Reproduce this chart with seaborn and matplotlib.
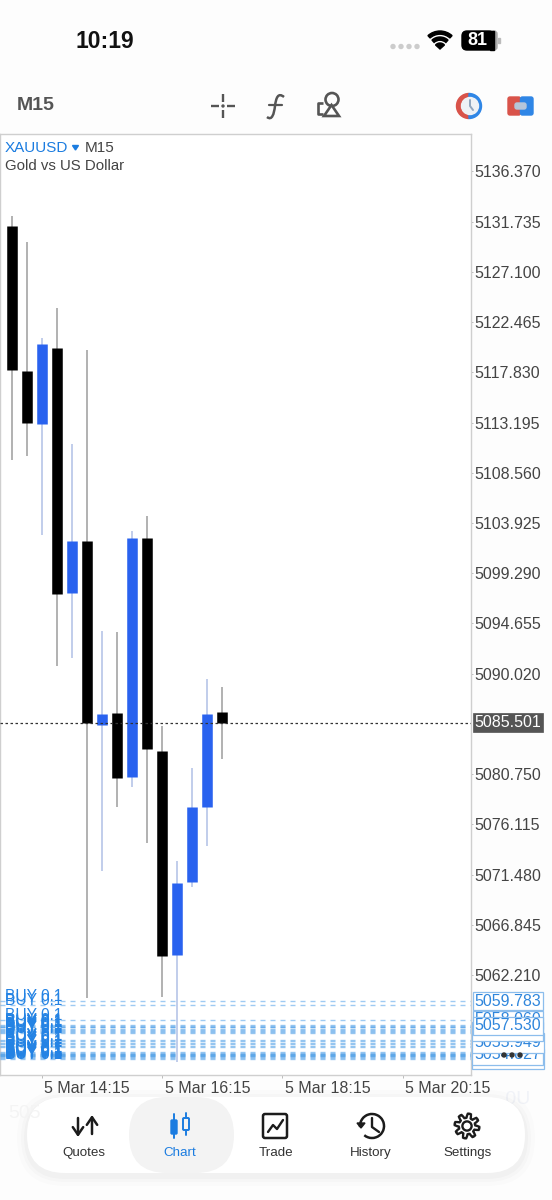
#!/usr/bin/env python3
import numpy as np
import pandas as pd
import matplotlib
matplotlib.use('Agg')
import matplotlib.pyplot as plt
import matplotlib.patches as mp
from matplotlib.path import Path
from matplotlib.transforms import ScaledTranslation
import seaborn as sns

# velas M15 (la primera esta cortada por el borde)
bars = list(range(16))
opens = [5121.56, 5131.34, 5117.96, 5113.07, 5120.08, 5097.47, 5102.27, 5085.29,
         5086.39, 5080.49, 5102.54, 5082.89, 5064.06, 5070.80, 5077.72, 5086.49]
closes = [5131.43, 5118.05, 5113.16, 5120.45, 5097.38, 5102.27, 5085.47, 5086.30,
          5080.39, 5102.54, 5083.07, 5063.97, 5070.70, 5077.72, 5086.30, 5085.47]
highs = [5131.43, 5132.26, 5129.86, 5121.00, 5123.77, 5111.22, 5119.90, 5093.96,
         5093.87, 5103.19, 5104.57, 5085.19, 5072.73, 5081.32, 5089.53, 5088.79]
lows = [5121.56, 5109.74, 5110.11, 5102.82, 5090.73, 5091.47, 5060.09, 5071.81,
        5077.72, 5079.56, 5074.39, 5060.18, 5054.18, 5070.33, 5074.12, 5082.15]

y_ticks = [5136.370, 5131.735, 5127.100, 5122.465, 5117.830, 5113.195, 5108.560, 5103.925,
           5099.290, 5094.655, 5090.020, 5080.750, 5076.115, 5071.480, 5066.845, 5062.210]
x_ticks = [3, 11, 19, 27]
x_labels = ['5 Mar 14:15', '5 Mar 16:15', '5 Mar 18:15', '5 Mar 20:15']
current_price = 5085.501

order_prices = [5059.783, 5059.44, 5058.06,
                5057.62, 5057.53, 5057.45, 5057.37, 5057.25, 5057.14, 5057.05, 5056.973, 5056.86,
                5056.21, 5056.10, 5055.949, 5055.80, 5055.68, 5055.57,
                5055.10, 5055.01, 5054.95, 5054.90, 5054.85, 5054.827, 5054.75, 5054.70, 5054.64, 5054.55, 5054.46]
# etiquetas de la derecha, de atras hacia delante
tag_prices = [5054.46, 5054.827, 5055.949, 5056.973, 5058.06, 5059.783, 5057.53]
tag_pads = [0.14, 0.14, 0.16, 0.14, 0.1, 0.1, 0.1]

tabs = ['Quotes', 'Chart', 'Trade', 'History', 'Settings']

BLUE = '#2962ef'
ORDER = '#3f97e6'
TEXT = '#444444'

sns.set_theme(style='white')
plt.rcParams['font.family'] = ['Liberation Sans', 'DejaVu Sans']
plt.rcParams['lines.scale_dashes'] = False

fig = plt.figure(figsize=(5.52, 12), dpi=100, facecolor='#fdfdfd')
ax = fig.add_axes([0, 125 / 1200, 471 / 552, 941 / 1200], facecolor='white')

# tablas largas para lineplot: mecha y cuerpo de cada vela
sides = ['up' if c >= o else 'down' for o, c in zip(opens, closes)]
wicks = pd.DataFrame({'bar': bars * 2, 'price': highs + lows, 'side': sides * 2, 'candle': bars * 2})
bodies = pd.DataFrame({'bar': bars * 2, 'price': opens + closes, 'side': sides * 2, 'candle': bars * 2})

sns.lineplot(data=wicks, x='bar', y='price', hue='side', units='candle', estimator=None,
             palette={'up': '#b0c0e6', 'down': '#9c9c9c'}, linewidth=1.1,
             solid_capstyle='butt', legend=False, ax=ax)
sns.lineplot(data=bodies, x='bar', y='price', hue='side', units='candle', estimator=None,
             palette={'up': BLUE, 'down': '#000000'}, linewidth=7.6,
             solid_capstyle='butt', legend=False, ax=ax)

ax.set_xlim(0.2326, 31.53)
ax.set_ylim(5052.98, 5139.83)
ax.set_xlabel('')
ax.set_ylabel('')
for s in ax.spines.values():
    s.set_visible(True)
    s.set_color('#cfcfcf')
    s.set_linewidth(1)

ax.yaxis.tick_right()
ax.set_yticks(y_ticks)
ax.set_yticklabels([f'{v:.3f}' for v in y_ticks])
ax.set_xticks(x_ticks)
ax.set_xticklabels(x_labels, ha='left')
ax.tick_params(axis='y', length=1.5, width=0.7, color='#bbbbbb', labelcolor=TEXT, labelsize=11.5, pad=1,
               left=False, right=True)
ax.tick_params(axis='x', length=2.5, width=0.7, color='#bbbbbb', labelcolor=TEXT, labelsize=11.5, pad=1.5,
               bottom=True)
shift = ScaledTranslation(0.025, 0, fig.dpi_scale_trans)
for lab in ax.get_xticklabels():
    lab.set_transform(lab.get_transform() + shift)

# lineas de ordenes BUY
ytr = ax.get_yaxis_transform()
for p in order_prices:
    ax.axhline(p, color=ORDER, lw=1.0, alpha=0.5, dashes=(3.6, 3.6), zorder=3)
    ax.text(5 / 471, p, 'BUY 0.1', transform=ytr, color='#2483e4', fontsize=11.2, va='baseline', zorder=4)

for z, (p, pad) in enumerate(zip(tag_prices, tag_pads)):
    ax.text(474.5 / 471, p, f'{p:.3f}', transform=ytr, color='#2f86dc', fontsize=11.5, va='center',
            clip_on=False, zorder=6 + z,
            bbox=dict(boxstyle=f'square,pad={pad}', fc='white', ec='#8cbdec', lw=0.9))

# precio actual
ax.axhline(current_price, color='#333333', lw=0.9, dashes=(1.8, 1.8), zorder=5)
ax.text(474.5 / 471, current_price, f'{current_price:.3f}', transform=ytr, color='white', fontsize=11.5,
        va='center', clip_on=False, zorder=6,
        bbox=dict(boxstyle='square,pad=0.12', fc='#555555', ec='#555555', lw=0.5))

# capa de la interfaz, en pixeles de la captura
ui = fig.add_axes([0, 0, 1, 1], zorder=5)
ui.set_xlim(0, 552)
ui.set_ylim(1200, 0)
ui.axis('off')
ui.patch.set_alpha(0)

DARK = '#1c1c1c'
GREY = '#555555'

# barra de estado
ui.text(105, 41, '10:19', fontsize=16.5, fontweight='bold', color='#111111', ha='center', va='center')
for x in [394, 402, 410, 418]:
    ui.add_patch(mp.Circle((x - 1, 46.5), 2, color='#cccccc'))
for r, w in [(18, 3.2), (12, 3.2)]:
    ui.add_patch(mp.Wedge((440, 49), r, 228, 312, width=w, color='#000000'))
ui.add_patch(mp.Wedge((440, 49), 6, 222, 318, color='#000000'))
ui.add_patch(mp.FancyBboxPatch((491, 31), 6, 19, boxstyle='round,pad=0,rounding_size=3', color='#aaaaaa'))
ui.add_patch(mp.FancyBboxPatch((462, 31), 32, 19, boxstyle='round,pad=0,rounding_size=5', color='#000000'))
ui.add_patch(mp.Rectangle((490, 31), 4, 19, color='#000000'))
ui.add_patch(mp.Rectangle((498, 38), 1.5, 5, color='#bbbbbb'))
ui.text(477, 40.5, '81', fontsize=13, fontweight='bold', color='white', ha='center', va='center')

# barra de herramientas
ui.text(17, 105.5, 'M15', fontsize=14, fontweight='bold', color=GREY, ha='left', va='center')
cx, cy = 223, 106
for x0, y0, x1, y1 in [(cx - 12, cy, cx - 4, cy), (cx + 4, cy, cx + 12, cy),
                       (cx, cy - 12, cx, cy - 4), (cx, cy + 4, cx, cy + 12)]:
    ui.plot([x0, x1], [y0, y1], color=GREY, lw=1.7, solid_capstyle='butt')
ui.add_patch(mp.Circle((cx, cy), 1, color=GREY))
f_curve = Path([(284, 97), (278, 92), (276, 98), (275, 106), (274, 114), (272, 121), (267, 117)],
               [Path.MOVETO] + [Path.CURVE4] * 6)
ui.add_patch(mp.PathPatch(f_curve, fc='none', ec=GREY, lw=1.8))
ui.plot([269, 282], [105, 105], color=GREY, lw=1.6)
ui.add_patch(mp.Circle((332, 99.5), 6.5, fc='none', ec=GREY, lw=1.9))
ui.add_patch(mp.Polygon([[331.5, 105], [324, 116], [339, 116]], closed=True, fc='white', ec=GREY, lw=1.9))
ui.plot([323, 318, 318, 323], [103, 103, 114, 114], color=GREY, lw=1.9, solid_capstyle='butt')

ui.add_patch(mp.Wedge((469, 106), 12.5, 90, 270, width=4, color='#d9534a'))
ui.add_patch(mp.Wedge((469, 106), 12.5, 270, 90, width=4, color='#2f86e6'))
ui.add_patch(mp.Circle((470, 106), 8.5, color='#eef1f5'))
ui.plot([470, 470, 473], [100, 106, 110], color='#8fa4bd', lw=1.4)
ui.add_patch(mp.FancyBboxPatch((508, 97), 12.5, 18, boxstyle='round,pad=0,rounding_size=2', color='#d9534a'))
ui.add_patch(mp.FancyBboxPatch((520.5, 97), 12.5, 18, boxstyle='round,pad=0,rounding_size=2', color='#2f86e6'))
ui.add_patch(mp.FancyBboxPatch((515, 103), 11, 6, boxstyle='round,pad=0,rounding_size=2', color='#b5c6da'))

# cabecera del grafico
ui.text(5, 148, 'XAUUSD', fontsize=11, color='#1b7ce0', ha='left', va='center')
ui.add_patch(mp.Polygon([[72.5, 145.5], [78.5, 145.5], [75.5, 150]], closed=True, color='#1b7ce0'))
ui.text(85, 148, 'M15', fontsize=11, color=TEXT, ha='left', va='center')
ui.text(5, 166.5, 'Gold vs US Dollar', fontsize=10.8, color=TEXT, ha='left', va='center')

# restos difuminados detras de la barra inferior
ui.text(8, 1114, '505', fontsize=14, color='#f4f4f4', ha='left', va='center')
ui.text(500, 1100, '.0U', fontsize=14, color='#f1f3f8', ha='left', va='center', zorder=0.5)

# barra inferior
for grow, a in [(10, 0.012), (6, 0.015), (3, 0.02)]:
    ui.add_patch(mp.FancyBboxPatch((27 - grow, 1097 - grow + 3), 498 + 2 * grow, 76 + 2 * grow,
                                   boxstyle=f'round,pad=0,rounding_size={38 + grow}',
                                   fc='#000000', ec='none', alpha=a))
ui.add_patch(mp.FancyBboxPatch((27, 1097), 498, 76, boxstyle='round,pad=0,rounding_size=38', fc='white', ec='none'))
ui.add_patch(mp.FancyBboxPatch((129, 1097), 105, 76, boxstyle='round,pad=0,rounding_size=38', fc='#f3f3f3', ec='none'))

tab_x = [84, 180, 275.5, 371, 467.5]
for name, x in zip(tabs, tab_x):
    sel = name == 'Chart'
    ui.text(x, 1153, name, fontsize=9.6, color='#1b7ce0' if sel else '#333333', ha='center', va='center',
            fontweight='medium')

# Quotes
arrow = dict(arrowstyle='->,head_width=0.34,head_length=0.5', color=DARK, lw=1.8, shrinkA=0, shrinkB=0, mutation_scale=11)
ui.annotate('', xy=(78, 1137), xytext=(78, 1118), arrowprops=arrow)
ui.annotate('', xy=(92, 1115), xytext=(92, 1134), arrowprops=arrow)
# Chart
ui.plot([174, 174], [1114, 1138], color='#1b7ce0', lw=1.4)
ui.add_patch(mp.FancyBboxPatch((171, 1120), 6, 14, boxstyle='round,pad=0,rounding_size=1', color='#1b7ce0'))
ui.plot([186, 186], [1113, 1135], color='#1b7ce0', lw=1.4)
ui.add_patch(mp.FancyBboxPatch((183, 1118), 6, 12, boxstyle='round,pad=0,rounding_size=1',
                               fc='#f3f3f3', ec='#1b7ce0', lw=1.4, zorder=3))
# Trade
ui.add_patch(mp.FancyBboxPatch((263, 1114), 24, 24, boxstyle='round,pad=0,rounding_size=2', fc='none', ec=DARK, lw=1.8))
ui.plot([268, 273, 277, 283], [1132, 1125, 1129, 1120], color=DARK, lw=1.7)
# History
ui.add_patch(mp.Arc((372, 1126), 24, 24, theta1=-185, theta2=130, color=DARK, lw=1.8))
ui.add_patch(mp.Polygon([[357, 1123], [365, 1123], [361, 1128]], closed=True, color=DARK))
ui.plot([372, 372, 379], [1118, 1127, 1132], color=DARK, lw=1.7)
# Settings
ang = np.linspace(0, 2 * np.pi, 97)
rad = 10.3 + 2.2 * np.tanh(3 * np.sin(8 * ang))
ui.add_patch(mp.Polygon(np.c_[467 + rad * np.cos(ang), 1126 + rad * np.sin(ang)], closed=True, fc='none', ec=DARK, lw=1.7))
ui.add_patch(mp.Circle((467, 1126), 4.6, fc='none', ec=DARK, lw=1.7))

# tres puntos sobre las etiquetas
for x in [504, 512, 520]:
    ui.add_patch(mp.Circle((x, 1055), 2, color='#333333'))

fig.savefig('out.png', dpi=100, facecolor=fig.get_facecolor())
